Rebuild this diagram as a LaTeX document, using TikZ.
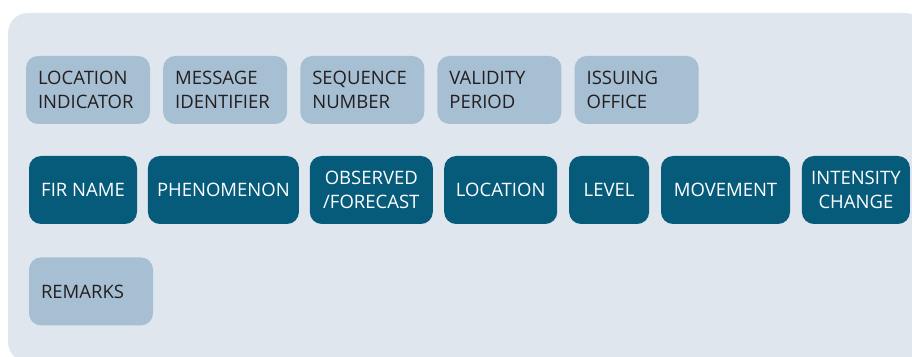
\documentclass[tikz,border=0pt]{standalone}
\usepackage{fontspec}
\setmainfont{Open Sans}
\usetikzlibrary{positioning}

\definecolor{panelbg}{HTML}{DFE6EE}
\definecolor{fieldbg}{HTML}{A7BFD3}
\definecolor{namebg}{HTML}{065B7A}
\definecolor{fieldtext}{HTML}{231F20}

\begin{document}
\begin{tikzpicture}[x = 1pt, y = 1pt, node distance = 12.75pt,
  fieldbox/.style = {fill = fieldbg, text = fieldtext, rounded corners = 12pt, inner xsep = 12pt, text width = 100pt, align = left, minimum height = 68pt, font = \fontsize{18.5}{24}\selectfont},
  namebox/.style = {fill = namebg, text = white, rounded corners = 12pt, inner xsep = 3pt, align = center, minimum height = 68pt, font = \fontsize{18.5}{24}\selectfont}]
\useasboundingbox (0,0) rectangle (912,356);
\clip (0,0) rectangle (912,356);
\fill[panelbg, rounded corners = 20pt] (8,-6) rectangle (925,343);

\node[fieldbox] (locind) at (88,266) {LOCATION\\INDICATOR};
\node[fieldbox, right = of locind] (msgid) {MESSAGE\\IDENTIFIER};
\node[fieldbox, right = of msgid] (seqnum) {SEQUENCE\\NUMBER};
\node[fieldbox, right = of seqnum] (validity) {VALIDITY\\PERIOD};
\node[fieldbox, right = of validity] (issuing) {ISSUING\\OFFICE};

\node[namebox, minimum width = 108pt] (firname) at (83,166) {FIR NAME};
\node[namebox, minimum width = 151pt, right = 10.5pt of firname] (phenom) {PHENOMENON};
\node[namebox, minimum width = 123pt, right = 10.5pt of phenom] (obsfc) {OBSERVED\\/FORECAST};
\node[namebox, minimum width = 113pt, right = 11pt of obsfc] (location) {LOCATION};
\node[namebox, minimum width = 80pt, right = 11.5pt of location] (level) {LEVEL};
\node[namebox, minimum width = 129pt, right = 11.5pt of level] (movement) {MOVEMENT};
\node[namebox, minimum width = 108pt, right = 11.5pt of movement] (intensity) {INTENSITY\\CHANGE};

\node[fieldbox, below = 33pt of firname.south west, anchor = north west] (remarks) {REMARKS};
\end{tikzpicture}
\end{document}
